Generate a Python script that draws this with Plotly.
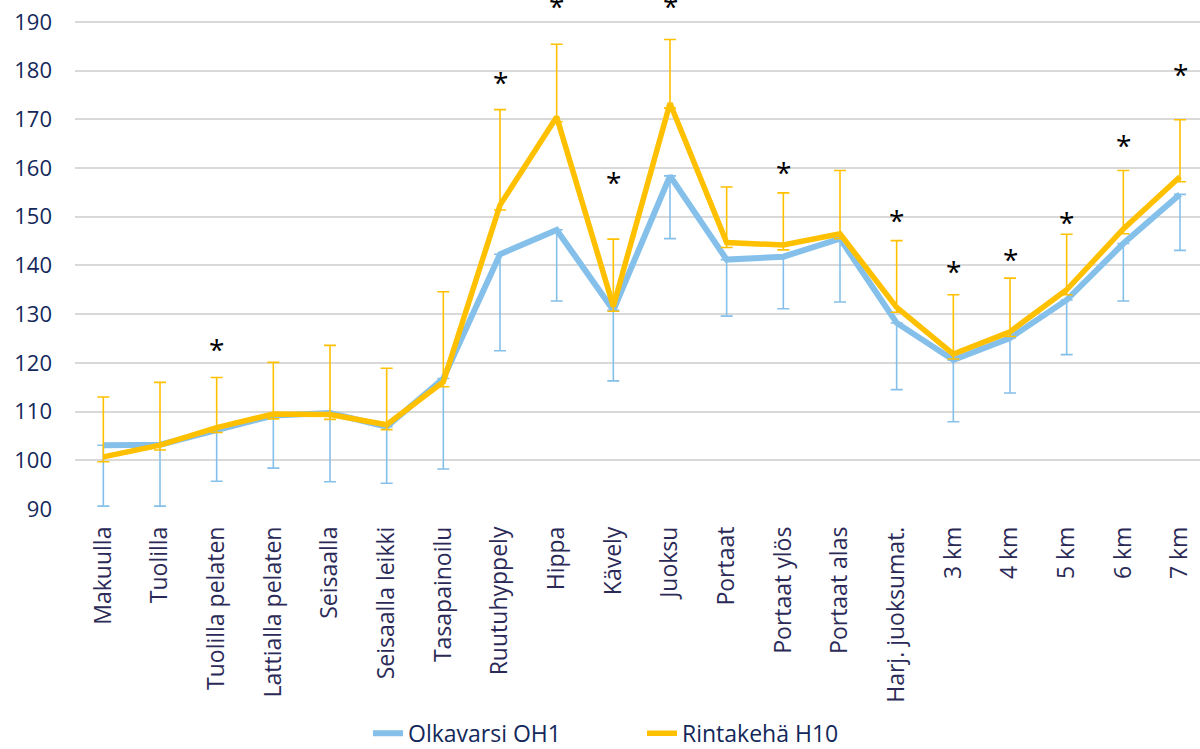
import plotly.graph_objects as go

# Activities (x categories)
activities = [
    "Makuulla", "Tuolilla", "Tuolilla pelaten", "Lattialla pelaten", "Seisaalla",
    "Seisaalla leikki", "Tasapainoilu", "Ruutuhyppely", "Hippa", "Kävely",
    "Juoksu", "Portaat", "Portaat ylös", "Portaat alas", "Harj. juoksumat.",
    "3 km", "4 km", "5 km", "6 km", "7 km",
]

# Mean heart rate per device
oh1_mean = [103.1, 103.2, 106.2, 109.2, 109.7, 106.9, 116.8, 142.3, 147.3, 130.8,
            158.4, 141.2, 141.8, 145.5, 128.2, 120.6, 125.1, 132.9, 144.5, 154.6]
h10_mean = [100.7, 103.1, 106.7, 109.5, 109.4, 107.3, 116.1, 152.4, 170.5, 131.6,
            173.3, 144.7, 144.2, 146.5, 131.4, 121.8, 126.4, 135.0, 147.5, 158.2]

# Standard deviations (OH1 drawn downwards, H10 upwards)
oh1_sd = [12.5, 12.6, 10.5, 10.8, 14.1, 11.6, 18.6, 19.8, 14.6, 14.5,
          12.9, 11.6, 10.7, 13.0, 13.7, 12.7, 11.3, 11.2, 11.8, 11.5]
h10_sd = [12.3, 12.9, 10.3, 10.6, 14.2, 11.6, 18.5, 19.6, 14.9, 13.8,
          13.1, 11.4, 10.7, 13.0, 13.7, 12.2, 11.0, 11.4, 12.0, 11.7]

# Significance markers (height of the asterisk, None = no marker)
sig_y = [None, None, 123.3, None, None, None, None, 178.0, 193.7, 157.5,
         193.7, None, 159.6, None, 149.8, 139.3, 141.7, 149.3, 165.2, 179.7]

y_ticks = [90, 100, 110, 120, 130, 140, 150, 160, 170, 180, 190]

BLUE = "#85C0EA"
YELLOW = "#FFC000"
NAVY = "#13285A"
FONT = "Open Sans"

fig = go.Figure()

fig.add_trace(go.Scatter(
    x=activities, y=oh1_mean, name="Olkavarsi OH1", mode="lines",
    line=dict(color=BLUE, width=6),
    error_y=dict(type="data", symmetric=False, array=[0] * len(oh1_sd),
                 arrayminus=oh1_sd, color=BLUE, thickness=1.6, width=6),
    cliponaxis=False,
))

fig.add_trace(go.Scatter(
    x=activities, y=h10_mean, name="Rintakehä H10", mode="lines",
    line=dict(color=YELLOW, width=5.5),
    error_y=dict(type="data", symmetric=False, array=h10_sd,
                 arrayminus=[1.0] * len(h10_sd), color=YELLOW, thickness=1.6, width=6),
    cliponaxis=False,
))

# Asterisks marking significant differences
for cat, yv in zip(activities, sig_y):
    if yv is None:
        continue
    fig.add_annotation(
        x=cat, y=yv, xref="x", yref="y", text="*", showarrow=False,
        yshift=-2, font=dict(family=FONT, size=28, color="#000000"),
    )

fig.update_layout(
    width=1200, height=749,
    margin=dict(l=75, r=0, t=0, b=240),
    paper_bgcolor="white", plot_bgcolor="white",
    font=dict(family=FONT, size=22, color=NAVY),
    showlegend=True,
    legend=dict(orientation="h", xref="container", yref="container",
                x=0.535, y=0.021, xanchor="center", yanchor="middle",
                font=dict(family=FONT, size=23, color=NAVY),
                entrywidth=229, tracegroupgap=0),
)

fig.update_xaxes(
    type="category", range=[-0.5, 19.353],
    tickangle=-90, tickfont=dict(family=FONT, size=23, color="#2B2A57"),
    showgrid=False, showline=False, zeroline=False, ticks="",
    ticklabelstandoff=12,
)

# Headroom above 190 keeps the top asterisks inside the axis range
fig.update_yaxes(
    range=[90, 194.5], tickvals=y_ticks,
    tickfont=dict(family=FONT, size=22, color=NAVY),
    showgrid=True, gridcolor="#D9D9D9", gridwidth=1.6,
    zeroline=False, showline=False, ticks="", ticklabelstandoff=22,
)

fig.write_html("out.html")
